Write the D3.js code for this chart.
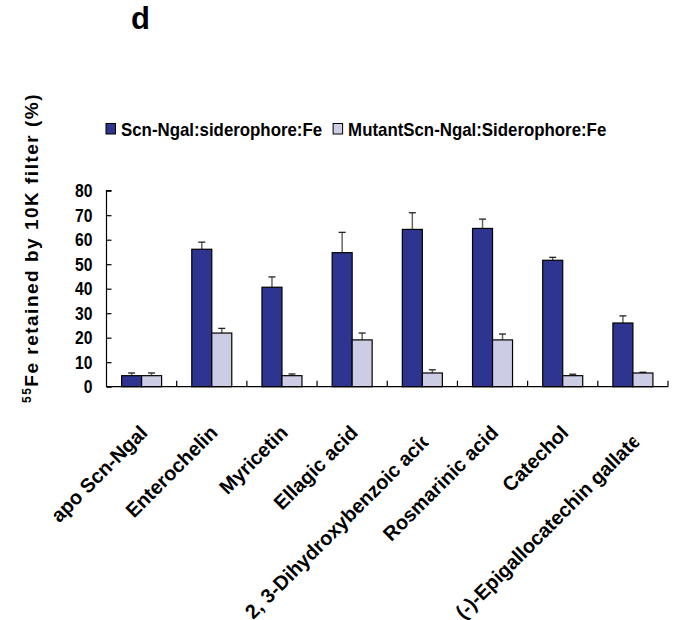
<!DOCTYPE html>
<html>
<head>
<meta charset="utf-8">
<script src="https://cdn.jsdelivr.net/npm/d3@7"></script>
<style>
  body { margin: 0; background: #fff; }
  text { font-family: "Liberation Sans", Arial, sans-serif; font-weight: bold; fill: #000; }
</style>
</head>
<body>
<svg id="chart" width="683" height="620"></svg>
<script>
// Iron retention data (% of 55Fe retained by a 10K filter), mean and upper error
const categories = [
  "apo Scn-Ngal", "Enterochelin", "Myricetin", "Ellagic acid",
  "2, 3-Dihydroxybenzoic acid", "Rosmarinic acid", "Catechol",
  "(-)-Epigallocatechin gallate"
];
const seriesNames = ["Scn-Ngal:siderophore:Fe", "MutantScn-Ngal:Siderophore:Fe"];
const wildType    = [4.5, 56.1, 40.6, 54.7, 64.2, 64.6, 51.6, 26.0];
const wildTypeErr = [1.1, 2.9, 4.2, 8.3, 6.8, 3.8, 1.2, 2.9];
const mutant      = [4.5, 21.9, 4.5, 19.1, 5.6, 19.1, 4.5, 5.6];
const mutantErr   = [1.1, 1.9, 0.7, 2.8, 1.3, 2.4, 0.6, 0.3];
const yTicks = [0, 10, 20, 30, 40, 50, 60, 70, 80];
const panelLabel = "d";

const colors = ["#2e3590", "#ccccE4"];

const svg = d3.select("#chart");
const plot = { left: 106.5, right: 668, top: 190.7, bottom: 386.7 };

const x = d3.scaleBand().domain(categories).range([plot.left, plot.right]).padding(0);
const xs = d3.scaleBand().domain(seriesNames)
  .range([x.bandwidth() / 2 - 20, x.bandwidth() / 2 + 20]).padding(0);
const y = d3.scaleLinear().domain([0, 80]).range([plot.bottom, plot.top]);

// squeeze / stretch text horizontally to a given fraction of its natural length
function scaleText(sel, f) {
  sel.each(function () {
    const L = this.getComputedTextLength();
    d3.select(this).attr("textLength", L * f).attr("lengthAdjust", "spacingAndGlyphs");
  });
}

// panel letter
svg.append("text").attr("x", 131).attr("y", 29).style("font-size", "31px").text(panelLabel);

// legend
const legend = svg.append("g").attr("transform", "translate(106,135)");
let lx = 0;
seriesNames.forEach((name, i) => {
  legend.append("rect").attr("x", lx).attr("y", -11.5).attr("width", 9.5).attr("height", 10.5)
    .attr("fill", colors[i]).attr("stroke", "#000").attr("stroke-width", 1);
  const t = legend.append("text").attr("x", lx + 15).attr("y", 0.5)
    .style("font-size", "18.5px").text(name);
  scaleText(t, 0.91);
  lx += 15 + (+t.attr("textLength")) + 11;
});

// bars
const series = [
  { name: seriesNames[0], values: wildType, errs: wildTypeErr, color: colors[0] },
  { name: seriesNames[1], values: mutant, errs: mutantErr, color: colors[1] }
];
const rows = [];
series.forEach(s => s.values.forEach((v, i) => rows.push({ cat: categories[i], v, e: s.errs[i], name: s.name, color: s.color })));

const barG = svg.append("g");
// error bars (upper only)
barG.selectAll("line.stem").data(rows).join("line")
  .attr("x1", d => x(d.cat) + xs(d.name) + xs.bandwidth() / 2)
  .attr("x2", d => x(d.cat) + xs(d.name) + xs.bandwidth() / 2)
  .attr("y1", d => y(d.v)).attr("y2", d => y(d.v + d.e))
  .attr("stroke", "#666").attr("stroke-width", 1.5);
barG.selectAll("line.cap").data(rows).join("line")
  .attr("x1", d => x(d.cat) + xs(d.name) + xs.bandwidth() / 2 - 3.5)
  .attr("x2", d => x(d.cat) + xs(d.name) + xs.bandwidth() / 2 + 3.5)
  .attr("y1", d => y(d.v + d.e)).attr("y2", d => y(d.v + d.e))
  .attr("stroke", "#222").attr("stroke-width", 1.3);
barG.selectAll("rect").data(rows).join("rect")
  .attr("x", d => x(d.cat) + xs(d.name))
  .attr("width", xs.bandwidth())
  .attr("y", d => y(d.v))
  .attr("height", d => y(0) - y(d.v))
  .attr("fill", d => d.color)
  .attr("stroke", "#000").attr("stroke-width", 1.2);

// y axis with inward ticks
const yAxis = svg.append("g").attr("transform", `translate(${plot.left},0)`)
  .call(d3.axisRight(y).tickValues(yTicks).tickSize(5).tickFormat(""));
yAxis.select(".domain").attr("d", `M5,${plot.top}H0V${plot.bottom}`).attr("stroke", "#000").attr("stroke-width", 1.2);
yAxis.selectAll(".tick line").attr("stroke", "#000").attr("stroke-width", 1.2);
const yLabels = svg.append("g").selectAll("text").data(yTicks).join("text")
  .attr("x", 92.5).attr("y", d => y(d) + 6.5)
  .attr("text-anchor", "end").style("font-size", "18px").text(d => d);
scaleText(yLabels, 0.87);

// x axis: baseline with category divider ticks pointing up
svg.append("line").attr("x1", plot.left).attr("x2", plot.right)
  .attr("y1", plot.bottom).attr("y2", plot.bottom).attr("stroke", "#000").attr("stroke-width", 1.2);
svg.append("g").selectAll("line").data(categories).join("line")
  .attr("x1", d => x(d) + x.bandwidth())
  .attr("x2", d => x(d) + x.bandwidth())
  .attr("y1", plot.bottom).attr("y2", plot.bottom - 6)
  .attr("stroke", "#000").attr("stroke-width", 1.2);

// rotated category labels; labels longer than the available room are cut at their end
const maxLen = 249;
const defs = svg.append("defs");
categories.forEach((c, i) => {
  const g = svg.append("g");
  const t = g.append("text").attr("text-anchor", "end").style("font-size", "20px").text(c);
  scaleText(t, 0.99);
  const L = +t.attr("textLength");
  let dy = 0;
  if (L > maxLen) {
    dy = 10;
    t.attr("text-anchor", "start").attr("x", -maxLen);
    defs.append("clipPath").attr("id", "clip" + i)
      .append("rect").attr("x", -maxLen - 2).attr("y", -30).attr("width", maxLen + 2).attr("height", 40);
    g.attr("clip-path", `url(#clip${i})`);
  }
  g.attr("transform", `translate(${x(c) + x.bandwidth() / 2 + 7},${434 + dy}) rotate(-45)`);
});

// y axis title
const yt = svg.append("text")
  .attr("transform", `translate(38,248) rotate(-90)`)
  .attr("text-anchor", "middle")
  .style("font-size", "19px").style("letter-spacing", "1.5px");
yt.append("tspan").style("font-size", "12px").attr("dy", -7).text("55");
yt.append("tspan").attr("dy", 7).text("Fe retained by 10K filter (%)");
</script>
</body>
</html>
